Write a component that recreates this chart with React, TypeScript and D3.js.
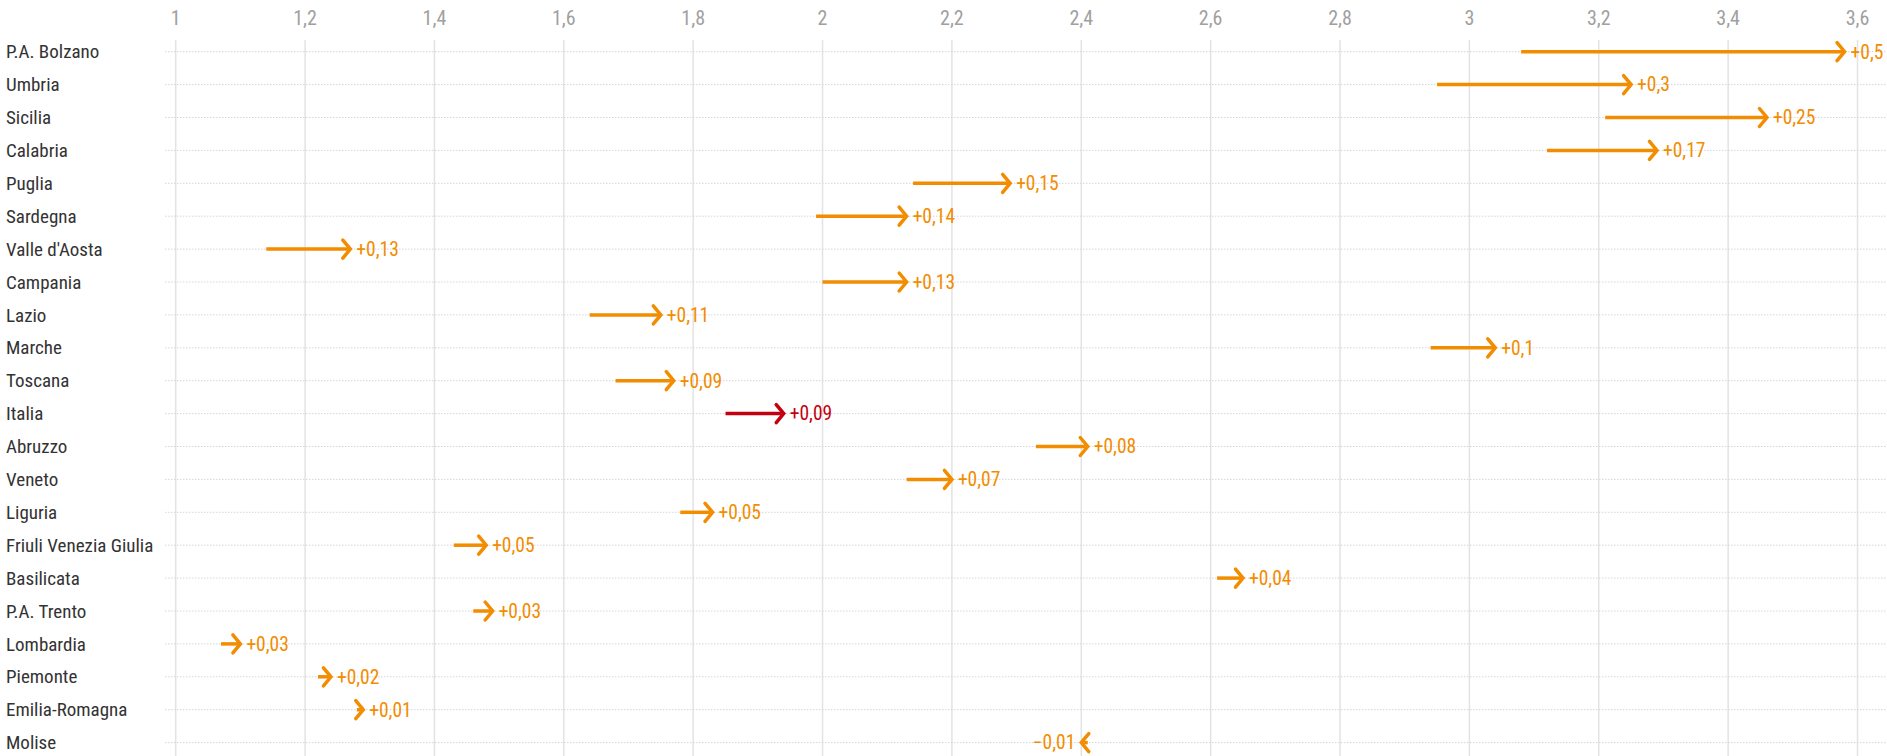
import React from "react";
import * as d3 from "d3";

const regions = ["P.A. Bolzano","Umbria","Sicilia","Calabria","Puglia","Sardegna","Valle d'Aosta","Campania","Lazio","Marche","Toscana","Italia","Abruzzo","Veneto","Liguria","Friuli Venezia Giulia","Basilicata","P.A. Trento","Lombardia","Piemonte","Emilia-Romagna","Molise"];
const startValues = [3.08,2.95,3.21,3.12,2.14,1.99,1.14,2.00,1.64,2.94,1.68,1.85,2.33,2.13,1.78,1.43,2.61,1.46,1.07,1.22,1.28,2.41];
const endValues =   [3.58,3.25,3.46,3.29,2.29,2.13,1.27,2.13,1.75,3.04,1.77,1.94,2.41,2.20,1.83,1.48,2.65,1.49,1.10,1.24,1.29,2.40];
const deltaLabels = ["+0,5","+0,3","+0,25","+0,17","+0,15","+0,14","+0,13","+0,13","+0,11","+0,1","+0,09","+0,09","+0,08","+0,07","+0,05","+0,05","+0,04","+0,03","+0,03","+0,02","+0,01","−0,01"];
const tickValues = [1,1.2,1.4,1.6,1.8,2,2.2,2.4,2.6,2.8,3,3.2,3.4,3.6];

const W = 1887, H = 756;
const FONT = "'Roboto Condensed','Liberation Sans Narrow','DejaVu Sans Condensed',Roboto,sans-serif";
const ORANGE = "#f28c00";
const RED = "#c4000f";

export default function App() {
  const x = d3.scaleLinear().domain([1, 3.6]).range([175.7, 1857.5]);
  const y = d3.scalePoint<string>().domain(regions).range([51.7, 742.6]);
  const fmt = (v: number) => d3.format(",")(v).replace(".", ",");
  return (
    <svg width={W} height={H} style={{ position: "absolute", left: 0, top: 0, background: "#fff" }} fontFamily={FONT}>
      {tickValues.map((t) => (
        <g key={t}>
          <line x1={x(t)} x2={x(t)} y1={40} y2={H} stroke="#e3e3e3" strokeWidth={1.5} />
          <text x={x(t)} y={18} dy="0.35em" textAnchor="middle" fontSize={20} fill="#a0a0a0">{fmt(t)}</text>
        </g>
      ))}
      {regions.map((r, i) => {
        const yy = y(r)!;
        const s = startValues[i], e = endValues[i];
        const x0 = x(s), x1 = x(e);
        const dir = e >= s ? 1 : -1;
        const col = r === "Italia" ? RED : ORANGE;
        const ah = 9, aw = 7.5;
        return (
          <g key={r}>
            <line x1={165} x2={W} y1={yy} y2={yy} stroke="#d6d6d6" strokeWidth={1} strokeDasharray="1.5,1.5" />
            <text x={6} y={yy} dy="0.35em" fontSize={19} fill="#333">{r}</text>
            <line x1={x0} x2={x1 - dir * 2} y1={yy} y2={yy} stroke={col} strokeWidth={3.5} />
            <path d={`M${x1 - dir * aw},${yy - ah} L${x1},${yy} L${x1 - dir * aw},${yy + ah}`} fill="none" stroke={col} strokeWidth={3.5} strokeLinecap="round" strokeLinejoin="miter" />
            <text x={x1 + dir * 6} y={yy} dy="0.35em" fontSize={19.5} fill={col} textAnchor={dir > 0 ? "start" : "end"}>{deltaLabels[i]}</text>
          </g>
        );
      })}
    </svg>
  );
}
